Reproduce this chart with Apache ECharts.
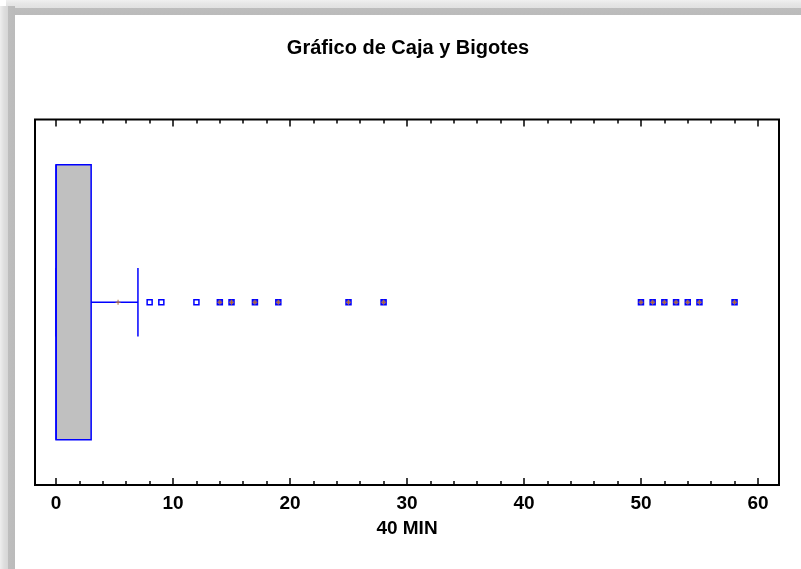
<!DOCTYPE html>
<html>
<head>
<meta charset="utf-8">
<script src="https://cdn.jsdelivr.net/npm/echarts@6/dist/echarts.min.js"></script>
<style>
  html, body { margin: 0; padding: 0; background: #ffffff; overflow: hidden; }
  #bandTop { position: absolute; left: 6px; top: 0; width: 795px; height: 15px;
    background: linear-gradient(to bottom, #f0f0f0 0px, #e6e6e6 4px, #e1e1e1 8px, #bdbdbd 8px, #bbbbbb 15px); }
  #bandLeft { position: absolute; left: 0; top: 6px; width: 15px; height: 563px;
    background: linear-gradient(to right, #eeeeee 0px, #dedede 4px, #d6d6d6 8px, #bebebe 8px, #bbbbbb 15px); }
  #chart { position: absolute; left: 0; top: 0; width: 801px; height: 569px; }
</style>
</head>
<body>
<div id="bandTop"></div>
<div id="bandLeft"></div>
<div id="chart"></div>
<script>
const titleText = 'Gráfico de Caja y Bigotes';
const categories = ['40 MIN'];
// five-number summary: min, Q1, median, Q3, max (whisker ends)
const boxStats = [[0, 0, 0, 3, 7]];
const meanValues = [5.3];
const nearOutliers = [8, 9, 12];
const farOutliers = [14, 15, 17, 19, 25, 28, 50, 51, 52, 53, 54, 55, 58];
const majorTicks = [0, 10, 20, 30, 40, 50, 60];
const minorTicks = [0, 2, 4, 6, 8, 10, 12, 14, 16, 18, 20, 22, 24, 26, 28, 30,
  32, 34, 36, 38, 40, 42, 44, 46, 48, 50, 52, 54, 56, 58, 60];

const FONT = '"Liberation Sans", Arial, Helvetica, sans-serif';
const BLUE = '#0000ff';
const PLUS_PATH = 'path://M4,0h2v4h4v2h-4v4h-2v-4h-4v-2h4z';

function tickAxis(position, values, len, withLabels) {
  const ax = {
    type: 'value', position: position, min: -1.8, max: 61.8,
    axisLine: { show: false },
    splitLine: { show: false },
    axisTick: { show: true, inside: true, length: len, customValues: values,
      lineStyle: { color: '#000', width: 1.5 } },
    axisLabel: { show: false }
  };
  if (withLabels) {
    ax.axisLabel = { show: true, customValues: values, margin: 9,
      color: '#000', fontFamily: FONT, fontWeight: 'bold', fontSize: 19 };
    ax.name = categories[0];
    ax.nameLocation = 'middle';
    ax.nameGap = 34;
    ax.nameTextStyle = { color: '#000', fontFamily: FONT, fontWeight: 'bold', fontSize: 19 };
  }
  return ax;
}

const chart = echarts.init(document.getElementById('chart'), null, { renderer: 'canvas' });
chart.setOption({
  animation: false,
  backgroundColor: 'transparent',
  graphic: [{
    type: 'text', x: 408, y: 48,
    style: { text: titleText, fill: '#000', font: 'bold 20px ' + FONT,
      align: 'center', verticalAlign: 'middle' }
  }],
  grid: { left: 35, right: 22, top: 119.5, bottom: 84, show: true,
    borderColor: '#000', borderWidth: 2, backgroundColor: 'transparent' },
  xAxis: [
    tickAxis('bottom', majorTicks, 7, true),
    tickAxis('bottom', minorTicks, 4, false),
    tickAxis('top', majorTicks, 7, false),
    tickAxis('top', minorTicks, 4, false)
  ],
  yAxis: { type: 'category', data: categories, show: false, boundaryGap: true },
  series: [
    {
      type: 'custom',
      clip: false,
      data: boxStats.map((s, i) => [i].concat(s)),
      encode: { x: [1, 2, 3, 4, 5], y: 0 },
      renderItem: function (params, api) {
        const cat = api.value(0);
        const lo = api.coord([api.value(1), cat]);
        const q1 = api.coord([api.value(2), cat]);
        const med = api.coord([api.value(3), cat]);
        const q3 = api.coord([api.value(4), cat]);
        const hi = api.coord([api.value(5), cat]);
        const band = api.size([0, 1])[1];
        const cy = q1[1];
        const hb = band * 0.376;
        const hc = band * 0.094;
        const ls = { stroke: BLUE, lineWidth: 1.5 };
        return {
          type: 'group',
          children: [
            { type: 'line', shape: { x1: q3[0], y1: cy, x2: hi[0], y2: cy }, style: ls },
            { type: 'line', shape: { x1: hi[0], y1: cy - hc, x2: hi[0], y2: cy + hc }, style: ls },
            { type: 'line', shape: { x1: lo[0], y1: cy, x2: q1[0], y2: cy }, style: ls },
            { type: 'line', shape: { x1: lo[0], y1: cy - hc, x2: lo[0], y2: cy + hc }, style: ls },
            { type: 'rect', shape: { x: q1[0], y: cy - hb, width: q3[0] - q1[0], height: 2 * hb },
              style: { fill: '#c0c0c0', stroke: BLUE, lineWidth: 1.5 } },
            { type: 'line', shape: { x1: med[0], y1: cy - hb, x2: med[0], y2: cy + hb }, style: ls }
          ]
        };
      }
    },
    {
      type: 'scatter', symbol: 'path://M0,0h10v10h-10z', symbolSize: 5,
      data: nearOutliers.map(v => [v, 0]),
      itemStyle: { color: '#ffffff', borderColor: BLUE, borderWidth: 1.5, opacity: 1 }
    },
    {
      type: 'scatter', symbol: 'path://M0,0h10v10h-10z', symbolSize: 5,
      data: farOutliers.map(v => [v, 0]),
      itemStyle: { color: '#6a5acd', borderColor: BLUE, borderWidth: 1.5, opacity: 1 }
    },
    {
      type: 'scatter', symbol: PLUS_PATH, symbolSize: 5,
      data: farOutliers.map(v => [v, 0]),
      itemStyle: { color: '#b8692a', opacity: 1 }
    },
    {
      type: 'scatter', symbol: PLUS_PATH, symbolSize: 5,
      data: meanValues.map(v => [v, 0]),
      itemStyle: { color: '#b07040', opacity: 1 }
    }
  ]
});
</script>
</body>
</html>
